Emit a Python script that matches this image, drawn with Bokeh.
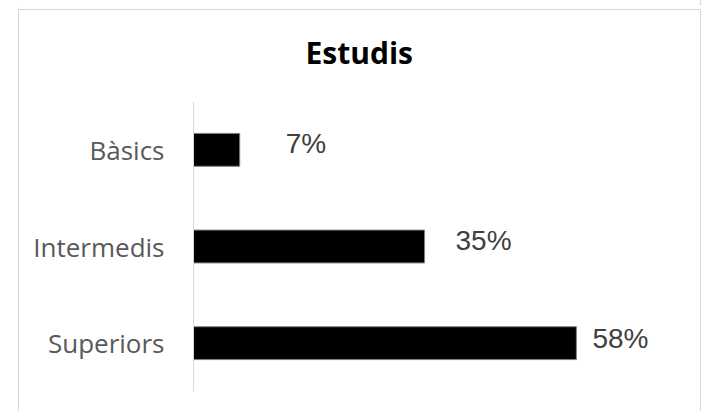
from bokeh.plotting import figure
from bokeh.models import FactorRange, Range1d, ColumnDataSource, InlineStyleSheet
from bokeh.core.properties import value
from bokeh.embed import file_html
from bokeh.resources import INLINE

# ---- data ----
categories = ["Bàsics", "Intermedis", "Superiors"]
percentages = [7, 35, 58]
value_labels = ["7%", "35%", "58%"]

# ---- label styling (pixel gaps between bar end and its label) ----
label_gap_px = [46, 31, 16]
label_dy_px = [-6, -6, -5]

src = ColumnDataSource(dict(cat=categories, pct=percentages, lab=value_labels,
                            gap=label_gap_px, dy=label_dy_px))

W, H = 699, 403
p = figure(width=W, height=H, output_backend="svg", toolbar_location=None,
           y_range=FactorRange(*reversed(categories)), x_range=Range1d(0, 76.5),
           min_border_left=193, min_border_right=1, min_border_top=100,
           min_border_bottom=12, title="Estudis")

p.background_fill_color = "white"
p.border_fill_color = "white"
p.outline_line_color = None
p.grid.visible = False
p.xaxis.visible = False

p.hbar(y="cat", right="pct", left=0, height=0.34, source=src,
       fill_color="black", line_color="#7f7f7f", line_width=1)

p.text(x="pct", y="cat", text="lab", source=src, x_offset="gap", y_offset="dy",
       text_font=value("Liberation Sans"), text_font_size="28px",
       text_color="#404040", text_align="left", text_baseline="middle")

yax = p.yaxis[0]
yax.axis_line_color = "#d9d9d9"
yax.axis_line_width = 1
yax.major_tick_line_color = None
yax.minor_tick_line_color = None
yax.major_tick_out = 0
yax.major_tick_in = 0
yax.major_label_standoff = 29
yax.major_label_text_font = "Open Sans"
yax.major_label_text_font_size = "26px"
yax.major_label_text_color = "#595959"

p.title.text_font = "Open Sans"
p.title.text_font_size = "30px"
p.title.text_font_style = "bold"
p.title.text_color = "black"
p.title.align = "left"
p.title.offset = 112
p.title.standoff = 58

# decorative chart frame (drawn with CSS on the figure element)
p.stylesheets = [InlineStyleSheet(css="""
:host { position: relative; overflow: visible; }
:host::after {
  content: ""; position: absolute; left: 18px; top: 9px; width: 683px; height: 420px;
  border: 1px solid #d6d6d6; pointer-events: none; box-sizing: border-box;
}
:host::before {
  content: ""; position: absolute; left: 18px; top: -20px; width: 683px; height: 25px;
  border: 1px solid #d6d6d6; pointer-events: none; box-sizing: border-box;
}
""")]

open("out.html", "w").write(file_html(p, INLINE))
